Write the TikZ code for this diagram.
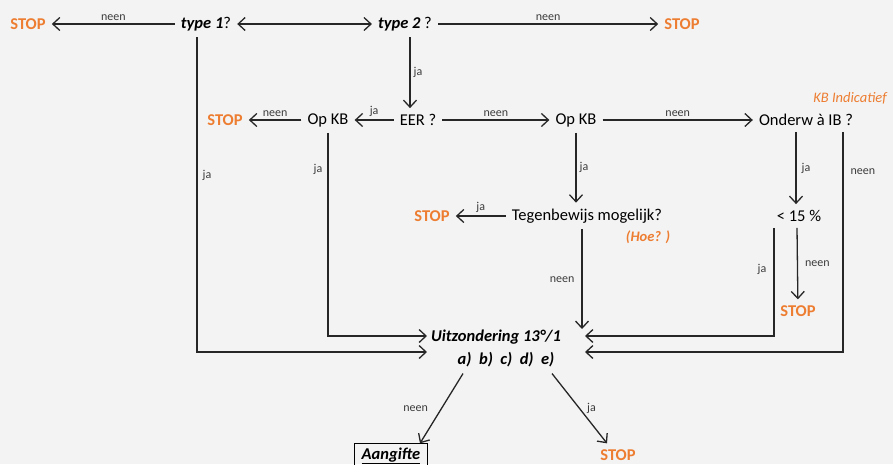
\documentclass[tikz,border=0pt]{standalone}
\usepackage{fontspec}
\setmainfont{Carlito}
\usetikzlibrary{arrows.meta}
\definecolor{stopOrange}{RGB}{237,125,49}
\definecolor{lblGray}{RGB}{60,60,60}
\definecolor{bgGray}{RGB}{243,243,243}
\begin{document}
\begin{tikzpicture}[x=1pt, y=-1pt, >={Straight Barb[length=7pt,width=13pt]},
    txtStyle/.style={font=\fontsize{16.5}{19}\selectfont, inner sep=6pt},
    boldStyle/.style={txtStyle, font=\fontsize{16.5}{19}\selectfont\bfseries\itshape},
    stopStyle/.style={txtStyle, font=\fontsize{16.5}{19}\selectfont\bfseries, text=stopOrange},
    lblStyle/.style={font=\fontsize{12}{14}\selectfont, text=lblGray, inner sep=1pt},
    noteStyle/.style={font=\fontsize{14.5}{17}\selectfont\itshape, text=stopOrange, inner sep=0pt},
    lineStyle/.style={line width=1.3pt, draw=black!85}]
    \path[use as bounding box, fill=bgGray] (0,0) rectangle (893,464);

    \node[stopStyle](stop1) at (28, 24) {STOP};
    \node[txtStyle](t1) at (206, 24) {\textbf{\textit{type 1}}?};
    \node[txtStyle](t2) at (405, 24) {\textbf{\textit{type 2}} ?};
    \node[stopStyle](stop2) at (682, 24) {STOP};

    \node[stopStyle](stop3) at (225, 120) {STOP};
    \node[txtStyle](opkb1) at (328, 120) {Op KB};
    \node[txtStyle](eer) at (418, 120) {EER ?};
    \node[txtStyle](opkb2) at (576, 120) {Op KB};
    \node[txtStyle](onderw) at (806, 120) {Onderw à IB ?};
    \node[noteStyle](kbind) at (850, 98) {KB Indicatief};

    \node[stopStyle](stop4) at (432, 216) {STOP};
    \node[txtStyle](teg) at (587, 216) {Tegenbewijs mogelijk?};
    \node[noteStyle, font=\fontsize{14.5}{17}\selectfont\bfseries\itshape](hoe) at (648, 237) {(Hoe? )};
    \node[txtStyle](pct) at (799, 216) {< 15 \%};
    \node[stopStyle](stop5) at (798, 311) {STOP};

    \node[boldStyle](uitz) at (496, 337) {Uitzondering 13°/1};
    \node[boldStyle](abc) at (506, 360) {a)\ \ b)\ \ c)\ \ d)\ \ e)};
    \node[boldStyle, draw, line width=1pt, inner sep=4pt, inner xsep=7pt](aang) at (391, 456) {\underline{Aangifte}};
    \node[stopStyle](stop6) at (618, 455) {STOP};

    \coordinate (inL1) at (427, 336);
    \coordinate (inL2) at (427, 352);
    \coordinate (inR1) at (585, 336);
    \coordinate (inR2) at (585, 352);
    \coordinate (tegEnd) at (582, 329);

    \draw[lineStyle, ->] (t1) -- node[lblStyle, above=2pt]{neen} (stop1);
    \draw[lineStyle, <->] (t1) -- (t2);
    \draw[lineStyle, ->] (t2) -- node[lblStyle, above=2pt]{neen} (stop2);
    \draw[lineStyle, ->] ([xshift=5pt]t2.south) -- node[lblStyle, right=2pt]{ja} ([xshift=-8pt]eer.north);

    \draw[lineStyle, ->] (eer) -- node[lblStyle, above=2pt]{ja} (opkb1);
    \draw[lineStyle, ->] (opkb1) -- node[lblStyle, above=2pt]{neen} (stop3);
    \draw[lineStyle, ->] (eer) -- node[lblStyle, above=2pt]{neen} (opkb2);
    \draw[lineStyle, ->] (opkb2) -- node[lblStyle, above=2pt]{neen} (onderw);

    \draw[lineStyle, ->] (opkb2.south) -- node[lblStyle, right=2pt]{ja} (opkb2.south |- teg.north);
    \draw[lineStyle, ->] (teg) -- node[lblStyle, above=2pt]{ja} (stop4);
    \draw[lineStyle, ->] ([xshift=-10pt]onderw.south) -- node[lblStyle, right=4pt]{ja} ([xshift=-10pt]onderw.south |- pct.north);
    \draw[lineStyle, ->] ([xshift=37pt]onderw.south) |- node[lblStyle, right=6pt, pos=0.09]{neen} (inR2);

    \draw[lineStyle, ->] ([xshift=-9pt]t1.south) |- node[lblStyle, right=4pt, pos=0.22]{ja} (inL2);
    \draw[lineStyle, ->] (opkb1.south) |- node[lblStyle, left=4pt, pos=0.09]{ja} (inL1);
    \draw[lineStyle, ->] ([xshift=-5pt]teg.south) -- node[lblStyle, left=6pt]{neen} (tegEnd);
    \draw[lineStyle, ->] ([xshift=-25pt]pct.south) |- node[lblStyle, left=6pt, pos=0.19]{ja} (inR1);
    \draw[lineStyle, ->] ([xshift=-2pt]pct.south) -- node[lblStyle, right=6pt]{neen} (stop5);

    \draw[lineStyle, ->] ([xshift=-43pt]abc.south) -- node[lblStyle, left=12pt]{neen} ([xshift=29pt]aang.north);
    \draw[lineStyle, ->] ([xshift=46pt]abc.south) -- node[lblStyle, right=6pt]{ja} ([xshift=-11pt]stop6.north);
\end{tikzpicture}
\end{document}
